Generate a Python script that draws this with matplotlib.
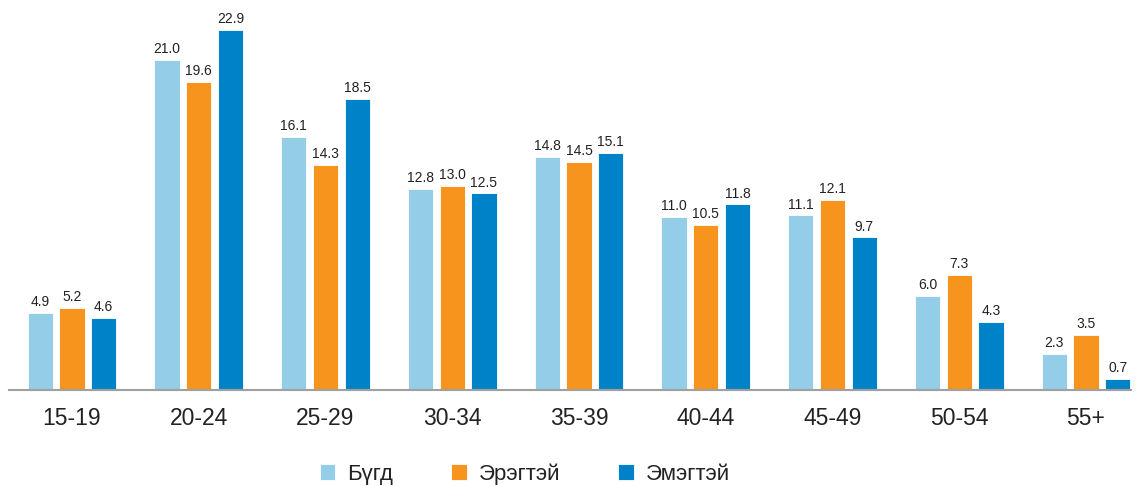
import numpy as np
import matplotlib.pyplot as plt

plt.rcParams['font.family'] = ['Liberation Sans', 'DejaVu Sans']

ages = ["15-19", "20-24", "25-29", "30-34", "35-39", "40-44", "45-49", "50-54", "55+"]
total = [4.9, 21.0, 16.1, 12.8, 14.8, 11.0, 11.1, 6.0, 2.3]
male = [5.2, 19.6, 14.3, 13.0, 14.5, 10.5, 12.1, 7.3, 3.5]
female = [4.6, 22.9, 18.5, 12.5, 15.1, 11.8, 9.7, 4.3, 0.7]
names = ["Бүгд", "Эрэгтэй", "Эмэгтэй"]
colors = ["#93CDE8", "#F7941D", "#0082C8"]

fig = plt.figure(figsize=(11.38, 4.86), dpi=100)
ax = fig.add_axes([9 / 1138, 96 / 486, 1122 / 1138, 375 / 486])

x = np.arange(len(ages))
w = 0.2
step = 0.25
for i, (vals, name, c) in enumerate(zip([total, male, female], names, colors)):
    pos = x + (i - 1) * step
    ax.bar(pos, vals, width=w, color=c, label=name, edgecolor="white", linewidth=0.6)
    for p, v in zip(pos, vals):
        ax.text(p, v + 0.25, f"{v:.1f}", ha="center", va="bottom", fontsize=10, color="#222222")

ax.set_xlim(-0.497, len(ages) - 1 + 0.355)
ax.set_ylim(0, 23.85)
for s in ["top", "right", "left"]:
    ax.spines[s].set_visible(False)
ax.spines["bottom"].set_color("#A0A0A0")
ax.spines["bottom"].set_linewidth(1.5)
ax.set_yticks([])
ax.set_xticks(x)
ax.set_xticklabels(ages, fontsize=16.5, color="#222222")
ax.tick_params(axis="x", length=0, pad=12)

fig.legend(loc="center", bbox_to_anchor=(525 / 1138, 12 / 486), ncol=3, frameon=False,
           fontsize=16, handlelength=0.7, handleheight=0.7, columnspacing=2.6,
           handletextpad=0.55, labelcolor="#222222")

fig.savefig("out.png", dpi=100)
